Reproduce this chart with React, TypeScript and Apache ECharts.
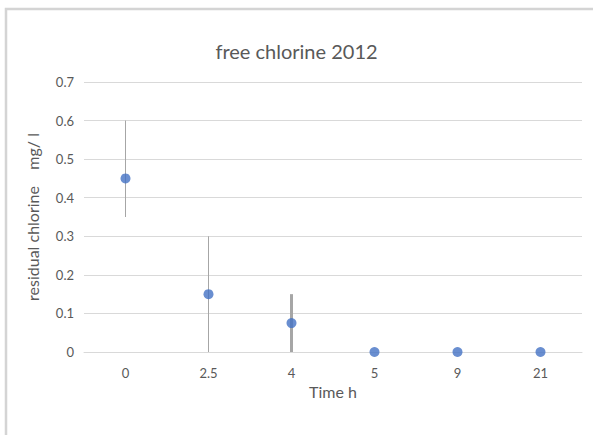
import React, { useEffect, useRef } from "react";
import * as echarts from "echarts";

const categories = ["0", "2.5", "4", "5", "9", "21"];
const meanValues = [0.45, 0.15, 0.075, 0, 0, 0];
const errLow = [0.35, 0, 0, 0, 0, 0];
const errHigh = [0.6, 0.3, 0.15, 0, 0, 0];
const errLineWidths = [1, 1, 3, 1, 1, 1];

export default function App() {
  const ref = useRef<HTMLDivElement>(null);
  useEffect(() => {
    if (!ref.current) return;
    const chart = echarts.init(ref.current, null, { renderer: "svg" });
    const font = "Lato, 'Open Sans', sans-serif";
    chart.setOption({
      animation: false,
      backgroundColor: "#ffffff",
      textStyle: { fontFamily: font },
      title: {
        text: "free chlorine 2012",
        left: "center",
        top: 36,
        textStyle: { fontSize: 20, fontWeight: "normal", color: "#595959", fontFamily: font },
      },
      graphic: [
        {
          type: "rect",
          shape: { x: 6, y: 9, width: 600, height: 440 },
          style: { fill: "none", stroke: "#d4d4d4", lineWidth: 2.5 },
          silent: true,
        },
      ],
      grid: { left: 84, right: 11, top: 82, bottom: 83 },
      xAxis: {
        type: "category",
        data: categories,
        name: "Time h",
        nameLocation: "middle",
        nameGap: 31,
        nameTextStyle: { color: "#595959", fontSize: 16, fontFamily: font },
        axisLine: { lineStyle: { color: "#d9d9d9" } },
        axisTick: { show: false },
        axisLabel: { color: "#595959", fontSize: 13, margin: 14, fontFamily: font },
      },
      yAxis: {
        type: "value",
        min: 0,
        max: 0.7,
        interval: 0.1,
        name: "residual chlorine    mg/ l",
        nameLocation: "middle",
        nameGap: 44,
        nameTextStyle: { color: "#595959", fontSize: 16, fontFamily: font },
        axisLine: { show: false },
        axisTick: { show: false },
        splitLine: { lineStyle: { color: "#d9d9d9" } },
        axisLabel: {
          color: "#595959",
          fontSize: 13,
          margin: 10,
          fontFamily: font,
          formatter: (v: number) => (v === 0 ? "0" : v.toFixed(1)),
        },
      },
      series: [
        {
          type: "custom",
          data: categories.map((_, i) => [i, errLow[i], errHigh[i]]),
          renderItem: (params: any, api: any) => {
            const idx = api.value(0);
            const lo = api.coord([idx, api.value(1)]);
            const hi = api.coord([idx, api.value(2)]);
            if (Math.abs(lo[1] - hi[1]) < 0.5) return null;
            return {
              type: "line",
              shape: { x1: lo[0], y1: lo[1], x2: hi[0], y2: hi[1] },
              style: { stroke: "#a6a6a6", lineWidth: errLineWidths[params.dataIndex] },
            };
          },
          z: 2,
        },
        {
          type: "scatter",
          data: meanValues,
          symbol: "circle",
          symbolSize: 10,
          itemStyle: { color: "#4472C4" },
          z: 3,
        },
      ],
    });
    return () => chart.dispose();
  }, []);
  return (
    <div
      ref={ref}
      style={{ position: "fixed", left: 0, top: 0, width: 593, height: 435 }}
    />
  );
}
